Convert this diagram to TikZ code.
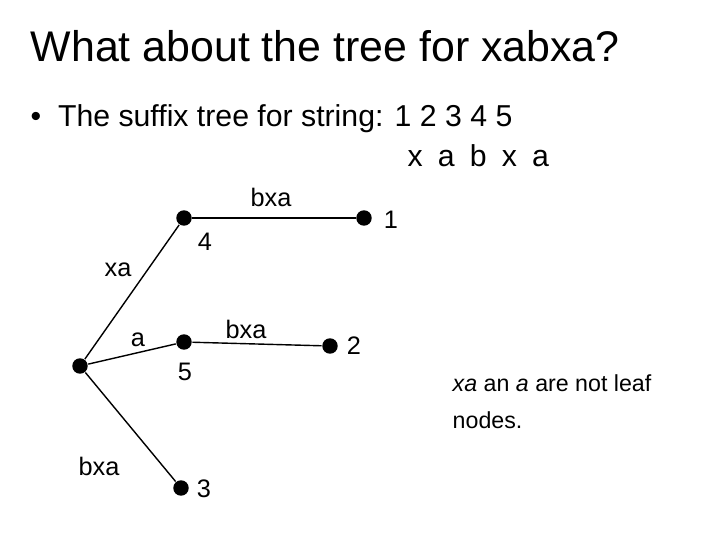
\documentclass[tikz,border=0pt]{standalone}
\usepackage{fontspec}
\setmainfont{Liberation Sans}
\usetikzlibrary{positioning}
\tikzset{every picture/.style={line width=1pt}}
\tikzset{
  dot/.style={circle,fill=black,inner sep=0pt,minimum size=11pt},
  lbl/.style={font=\fontsize{18}{22}\selectfont,inner sep=1pt}
}
\begin{document}
\begin{tikzpicture}[x=0.025cm,y=-0.025cm]
\useasboundingbox (0,0) rectangle (720,540);
\node[anchor=west,font=\fontsize{30.5}{36}\selectfont,inner sep=0pt] (title) at (30,46) {What about the tree for xabxa?};
\node[anchor=west,font=\fontsize{21.5}{26}\selectfont,inner sep=0pt] (bul) at (30,119) {\textbullet\ \ The suffix tree for string: 1 2 3 4 5};
\node[anchor=west,font=\fontsize{21.5}{26}\selectfont,inner sep=0pt] (str) at (407,156) {x\,\,\,a\,\,\,b\,\,\,x\,\,\,a};
%
\node[dot] (root) at (80,366) {};
\node[dot] (n4) at (184,218) {};
\node[dot] (n1) at (364,218) {};
\node[dot] (n5) at (184,342) {};
\node[dot] (n2) at (330,346) {};
\node[dot] (n3) at (181,488) {};
%
\foreach \Source/\Target in {root/n4, n4/n1, root/n5, n5/n2, root/n3}
\draw (\Source) to (\Target);
%
\node[lbl] at (271,197) {bxa};
\node[lbl] at (391,220) {1};
\node[lbl] at (205,242) {4};
\node[lbl] at (118,270) {xa};
\node[lbl] at (138,340) {a};
\node[lbl] at (246,329) {bxa};
\node[lbl] at (354,346) {2};
\node[lbl] at (185,372) {5};
\node[lbl] at (99,466) {bxa};
\node[lbl] at (204,489) {3};
%
\node[anchor=north west,align=left,font=\fontsize{16.5}{26}\selectfont,inner sep=0pt] (note) at (452,374) {\textit{xa} an \textit{a} are not leaf\\nodes.};
\end{tikzpicture}
\end{document}
